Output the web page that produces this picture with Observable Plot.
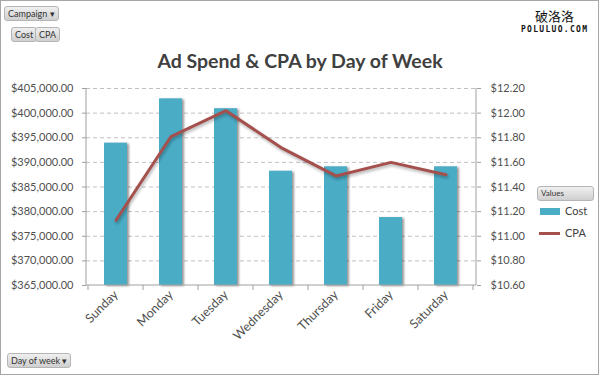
<!DOCTYPE html>
<html>
<head>
<meta charset="utf-8">
<script src="https://cdn.jsdelivr.net/npm/d3@7"></script>
<script src="https://cdn.jsdelivr.net/npm/@observablehq/plot@0.6"></script>
<style>
  body { margin: 0; background: #fff; font-family: Lato, "Open Sans", sans-serif; }
  #wrap { position: relative; width: 600px; height: 375px; overflow: hidden; }
  #wrap svg.plot { position: absolute; left: 0; top: 0; }
  .border { position: absolute; left: 0; top: 0; width: 597px; height: 373px; border: 1px solid #a6a6a6; pointer-events: none; }
  .btn { position: absolute; height: 13px; line-height: 13px; font-size: 9px; color: #333; padding: 0 3px;
         background: linear-gradient(#f0f0f0, #cfcfcf); border: 1px solid #b5b5b5; border-radius: 3px; white-space: nowrap; box-sizing: content-box; }
  .title { position: absolute; left: 0; width: 600px; top: 49px; text-align: center; font-size: 19.5px; font-weight: bold; color: #404040; }
  .legtxt { position: absolute; font-size: 11px; color: #404040; }
  .wm1 { position: absolute; left: 535px; top: 9px; font-size: 13px; line-height: 13px; color: #111; font-family: "Noto Sans CJK SC", sans-serif; }
  .wm2 { position: absolute; left: 521px; top: 26px; font-size: 8px; line-height: 8px; color: #111; font-family: "DejaVu Sans Mono", monospace; font-weight: bold; letter-spacing: 1.3px; }
  .bars rect { filter: drop-shadow(2px 1px 1.2px rgba(0,0,0,0.4)); }
  .cpaline path { filter: drop-shadow(1px 2px 1.5px rgba(0,0,0,0.3)); }
</style>
</head>
<body>
<div id="wrap"></div>
<script>
const days = ["Sunday", "Monday", "Tuesday", "Wednesday", "Thursday", "Friday", "Saturday"];
const cost = [393900, 402900, 400900, 388200, 389100, 378800, 389100];
const cpa = [11.13, 11.81, 12.02, 11.72, 11.49, 11.60, 11.50];
const costTicks = [365000, 370000, 375000, 380000, 385000, 390000, 395000, 400000, 405000];
const cpaTicks = [10.6, 10.8, 11.0, 11.2, 11.4, 11.6, 11.8, 12.0, 12.2];

const rows = days.map((d, i) => ({day: d, cost: cost[i], cpa: cpa[i]}));
const cpaToCost = d3.scaleLinear().domain([cpaTicks[0], cpaTicks[cpaTicks.length - 1]])
  .range([costTicks[0], costTicks[costTicks.length - 1]]);

const axisColor = "#a0a0a0";

function frameMark(index, scales, values, dims) {
  const x = scales.x, y = scales.y;
  const g = d3.create("svg:g");
  const left = dims.marginLeft, right = dims.width - dims.marginRight;
  const top = y(costTicks[costTicks.length - 1]), bottom = y(costTicks[0]);
  g.append("line").attr("x1", left).attr("x2", left).attr("y1", top).attr("y2", bottom).attr("stroke", axisColor);
  g.append("line").attr("x1", right).attr("x2", right).attr("y1", top).attr("y2", bottom).attr("stroke", axisColor);
  g.append("line").attr("x1", left).attr("x2", right).attr("y1", bottom).attr("y2", bottom).attr("stroke", axisColor);
  const step = x.step ? x.step() : (right - left) / days.length;
  const bw = x.bandwidth ? x.bandwidth() : 0;
  const bounds = days.map(d => x(d) - (step - bw) / 2);
  bounds.push(bounds[bounds.length - 1] + step);
  for (const b of bounds) {
    g.append("line").attr("x1", b).attr("x2", b).attr("y1", bottom).attr("y2", bottom + 5).attr("stroke", axisColor);
  }
  return g.node();
}

const chart = Plot.plot({
  width: 600,
  height: 375,
  marginLeft: 86,
  marginRight: 124,
  marginTop: 88,
  marginBottom: 90,
  style: {fontFamily: "Lato, 'Open Sans', sans-serif", fontSize: "11px", color: "#505050", background: "transparent"},
  x: {domain: days, paddingInner: 0.58, paddingOuter: 0.29, label: null},
  y: {domain: [costTicks[0], costTicks[costTicks.length - 1]], label: null},
  marks: [
    Plot.gridY(costTicks.slice(1), {stroke: "#c0c0c0", strokeOpacity: 1, strokeDasharray: "4,3"}),
    Plot.barY(rows, {x: "day", y1: costTicks[0], y2: "cost", fill: "#4BACC6", className: "bars"}),
    Plot.line(rows, {x: "day", y: d => cpaToCost(d.cpa), stroke: "#A5504D", strokeWidth: 3, className: "cpaline"}),
    frameMark,
    Plot.axisY(costTicks, {anchor: "left", tickSize: 4, tickPadding: 9, stroke: axisColor, fill: "#505050",
      tickFormat: d3.format("$,.2f"), label: null}),
    Plot.axisY(cpaTicks.map(v => cpaToCost(v)), {anchor: "right", tickSize: 4, tickPadding: 10, stroke: axisColor, fill: "#505050",
      tickFormat: v => "$" + cpaToCost.invert(v).toFixed(2), label: null}),
    Plot.axisX({tickRotate: -45, tickSize: 0, tickPadding: 7, fontSize: 12.5, fill: "#505050", label: null})
  ]
});
chart.classList.add("plot");

const wrap = document.getElementById("wrap");
wrap.appendChild(chart);

function addDiv(cls, text, css) {
  const d = document.createElement("div");
  d.className = cls;
  d.textContent = text;
  Object.assign(d.style, css || {});
  wrap.appendChild(d);
  return d;
}
addDiv("title", "Ad Spend & CPA by Day of Week");
addDiv("btn", "Campaign ▾", {left: "4px", top: "6px"});
addDiv("btn", "Cost", {left: "11px", top: "27px"});
addDiv("btn", "CPA", {left: "35px", top: "27px"});
addDiv("btn", "Day of week ▾", {left: "7px", top: "353px"});
addDiv("btn", "Values", {left: "537px", top: "186px", width: "49px", fontSize: "8px"});
addDiv("", "", {position: "absolute", left: "540px", top: "208px", width: "20px", height: "7px", background: "#4BACC6"});
addDiv("legtxt", "Cost", {left: "565px", top: "204px"});
addDiv("", "", {position: "absolute", left: "539px", top: "232px", width: "21px", height: "3px", background: "#A5504D"});
addDiv("legtxt", "CPA", {left: "565px", top: "226px"});
addDiv("wm1", "破洛洛");
addDiv("wm2", "POLULUO.COM");
addDiv("border", "");
</script>
</body>
</html>
